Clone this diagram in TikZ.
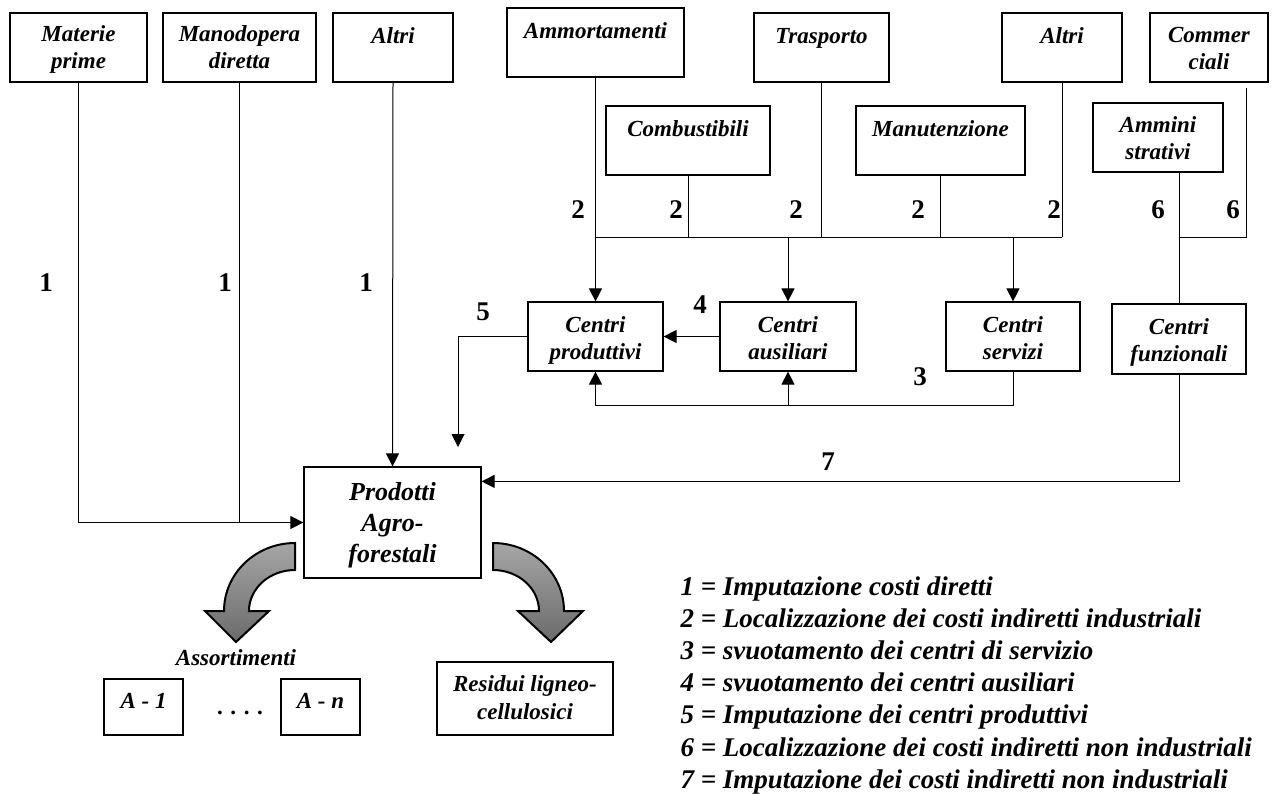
\documentclass[tikz,border=0pt]{standalone}
\usepackage{fontspec}
\setmainfont{Liberation Serif}
\usetikzlibrary{arrows.meta}

\tikzset{
  box/.style={draw, line width=1.2pt, inner xsep=2pt, inner ysep=0pt, align=center,
    text height=30pt, text depth=39pt,
    font=\fontsize{23}{27}\selectfont\bfseries\itshape},
  twoline/.style={text height=55pt, text depth=14pt},
  num/.style={font=\fontsize{27}{30}\selectfont\bfseries, inner sep=0pt},
  legend/.style={font=\fontsize{27}{32}\selectfont\bfseries\itshape, inner sep=0pt, anchor=base west},
  bigarrow/.style={draw, line width=2pt, top color=gray!70, bottom color=black!58},
}

\begin{document}
\begin{tikzpicture}[x=1pt, y=-1pt, line width=1pt, >={Triangle[width=13pt,length=13pt]}]
\useasboundingbox (0,0) rectangle (1274,793);

%top boxes
\node[box, twoline, minimum width=137pt] (mat) at (78.5,47.5) {Materie\\prime};
\node[box, twoline, minimum width=153pt] (mano) at (239.5,47.5) {Manodopera\\diretta};
\node[box, minimum width=120pt] (altri1) at (393,47.5) {Altri};
\node[box, minimum width=177pt] (ammort) at (595.5,42.5) {Ammortamenti};
\node[box, minimum width=135pt] (trasp) at (821.5,47.5) {Trasporto};
\node[box, minimum width=120pt] (altri2) at (1062,47.5) {Altri};
\node[box, twoline, minimum width=118pt, text height=56pt, text depth=13pt] (comm) at (1209,47.5) {Commer\\ciali};
\node[box, minimum width=164pt] (combust) at (688,140.5) {Combustibili};
\node[box, minimum width=169pt] (manut) at (940.5,140.5) {Manutenzione};
\node[box, twoline, minimum width=130pt, text height=56pt, text depth=13pt] (ammin) at (1158,137.5) {Ammini\\strativi};

%centri
\node[box, twoline, minimum width=135pt, text height=57pt, text depth=12pt] (prod) at (595.5,336.5) {Centri\\produttivi};
\node[box, twoline, minimum width=136pt, text height=57pt, text depth=12pt] (aus) at (788,336.5) {Centri\\ausiliari};
\node[box, twoline, minimum width=134pt, text height=57pt, text depth=12pt] (serv) at (1013,336.5) {Centri\\servizi};
\node[box, twoline, minimum width=134pt, text height=57pt, text depth=13pt] (funz) at (1179,339) {Centri\\funzionali};

%products
\node[box, minimum width=177pt, text height=95pt, text depth=16pt,
  font=\fontsize{26}{31}\selectfont\bfseries\itshape] (prodotti) at (392.5,522.5) {Prodotti\\Agro-\\forestali};
\node[font=\fontsize{23}{27}\selectfont\bfseries\itshape] (assort) at (236,658) {Assortimenti};
\node[box, minimum width=79pt, text height=29pt, text depth=27pt] (a1) at (143.5,707) {A - 1};
\node[box, minimum width=79pt, text height=29pt, text depth=27pt] (an) at (320.5,707) {A - n};
\node[font=\fontsize{23}{27}\selectfont\bfseries] (dots) at (240,713) {. . . .};
\node[box, minimum width=176pt, text height=57pt, text depth=16pt,
  font=\fontsize{23}{28}\selectfont\bfseries\itshape] (resid) at (525,698.5) {Residui ligneo-\\cellulosici};

%numbers
\foreach \x [count=\i] in {46,225,366}
  \node[num] (one\i) at (\x,283) {1};
\foreach \x [count=\i] in {578,676,796,918,1054}
  \node[num] (two\i) at (\x,210) {2};
\foreach \x [count=\i] in {1158,1233}
  \node[num] (six\i) at (\x,210) {6};
\node[num] (three) at (920,377) {3};
\node[num] (four) at (700,305) {4};
\node[num] (five) at (483,312) {5};
\node[num] (seven) at (828,462) {7};

%direct costs
\draw[->] (mat.south) |- (prodotti.west);
\draw (mano.south) -- (mano.south |- prodotti.west);
\draw[->] (altri1.south) -- (prodotti.north);

%industrial costs
\coordinate (bus2) at (0,237);
\draw[->] (ammort.south) -- (prod.north);
\draw (ammort.south |- bus2) -- (altri2.south |- bus2);
\foreach \b in {combust,trasp,manut,altri2}
  \draw (\b.south) -- (\b.south |- bus2);
\draw[->] (aus.north |- bus2) -- (aus.north);
\draw[->] (serv.north |- bus2) -- (serv.north);

%between centri
\draw[->] (aus.west) -- (prod.east);
\coordinate (bus3) at (0,405);
\draw[->] (serv.south) |- (prod.south |- bus3) -- (prod.south);
\draw[->] (aus.south |- bus3) -- (aus.south);
\coordinate (end5) at (458,447);
\draw[->] (prod.west) -| (end5);

%non industrial costs
\draw (funz.north) -- (funz.north |- ammin.south);
\draw ([xshift=-22pt,yshift=-5pt]comm.south east) |- (funz.north |- bus2);
\draw[->] (funz.south) |- ([yshift=-15pt]prodotti.north east);

%curved arrows
\path[bigarrow] (295,543) arc[start angle=-90, end angle=-180, x radius=71, y radius=68]
  -- (205,611) -- (236,642) -- (269,611) -- (249,611)
  arc[start angle=180, end angle=270, x radius=46, y radius=41] -- cycle;
\path[bigarrow] (493,543) arc[start angle=-90, end angle=0, x radius=71, y radius=68]
  -- (583,611) -- (551,642) -- (518,611) -- (539,611)
  arc[start angle=0, end angle=-90, x radius=46, y radius=41] -- cycle;

%legend
\foreach \n/\t in {1/Imputazione costi diretti,
    2/Localizzazione dei costi indiretti industriali,
    3/svuotamento dei centri di servizio,
    4/svuotamento dei centri ausiliari,
    5/Imputazione dei centri produttivi,
    6/Localizzazione dei costi indiretti non industriali,
    7/Imputazione dei costi indiretti non industriali}
  \node[legend] (leg\n) at (680,{595+32.2*(\n-1)}) {\n{} = \t};
\end{tikzpicture}
\end{document}
